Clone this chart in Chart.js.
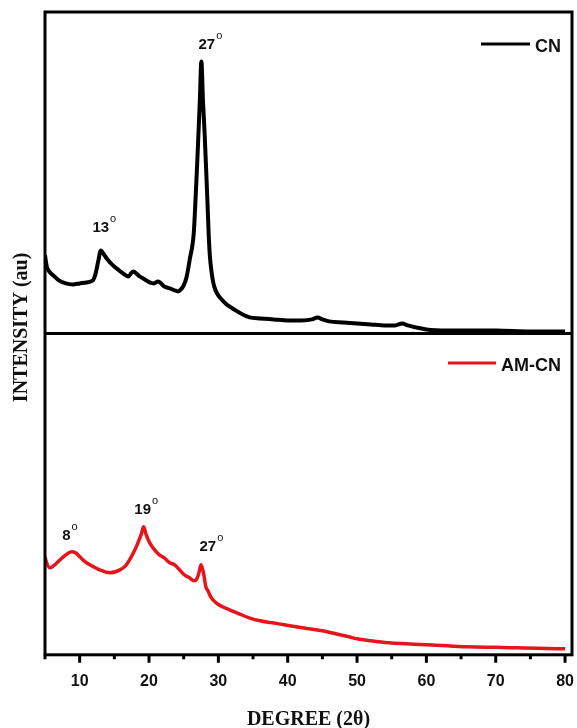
<!DOCTYPE html>
<html>
<head>
<meta charset="utf-8">
<script src="https://cdn.jsdelivr.net/npm/chart.js@4.4.1/dist/chart.umd.min.js"></script>
<style>
    html, body { margin: 0; padding: 0; background: #fff; }
    #wrap { width: 577px; height: 728px; position: relative; }
</style>
</head>
<body>
<div id="wrap"><canvas id="xrdChart"></canvas></div>
<script>
// XRD patterns, 2-theta in degrees, intensity in arbitrary units
var cnAngles = [5.0, 5.25, 5.6, 6.2, 7, 8, 9, 10, 11, 11.9, 12.3, 12.7, 13.05, 13.3, 13.9, 14.8, 15.5, 16.25,
    17, 17.7, 18.65, 19.4, 20.1, 20.7, 21.3, 22.2, 23, 23.7, 24.2, 24.6, 25.0, 25.4, 25.9, 26.45, 26.7, 26.93,
    27.13, 27.33, 27.55, 27.78, 28.02, 28.22, 28.42, 28.6, 28.78, 29.05, 29.4, 30.6, 32.5, 34.5, 36, 38, 40, 42,
    43.5, 44.3, 45, 46, 48, 50, 52, 54, 55.5, 56.5, 57.3, 58.5, 60, 63, 66, 70, 75, 80];
var cnIntensity = [78, 67, 62, 58, 53, 50, 49, 50, 51, 53, 60, 73, 83, 81, 75, 68, 64, 60,
    57, 62, 57, 54, 51, 50, 52, 47, 45, 43, 42, 44, 48, 56, 75, 100, 133, 167,
    200, 233, 272, 233, 200, 167, 133, 100, 77, 60, 47, 33, 23, 16, 15, 14, 13, 13,
    14, 16, 14, 12, 11, 10, 9, 8, 8, 10, 8, 6, 4, 3, 3, 3, 2, 2];

var amAngles = [5.0, 5.24, 5.72, 6.4, 7.16, 8.0, 8.83, 9.4, 10.03, 10.8, 11.5, 12.9, 14.34, 15.8, 16.6, 17.2,
    17.9, 18.4, 18.9, 19.22, 19.6, 20.1, 20.8, 21.5, 22.2, 23, 23.7, 24.4, 25.1, 25.83, 26.5, 26.9, 27.2, 27.5,
    27.85, 28.2, 28.5, 28.9, 29.67, 30.6, 31.6, 33, 34.45, 36, 37.8, 39.5, 41.2, 43, 45, 46.9, 48.8, 50, 52,
    54.6, 57, 60, 63, 66, 70, 73, 76, 80];
var amIntensity = [98, 92, 87, 90, 95, 100, 103, 102, 98, 93, 90, 85, 82, 85, 89, 95,
    104, 112, 121, 128, 120, 112, 105, 100, 97, 92, 90, 85, 80, 77, 74, 76, 82, 90,
    82, 68, 64, 58, 52, 48, 45, 41, 37, 34, 32, 30, 28, 26, 24, 21, 18, 16, 14,
    12, 11, 10, 9, 8, 7.5, 7, 6.5, 6];

var xTickValues = [5, 10, 15, 20, 25, 30, 35, 40, 45, 50, 55, 60, 65, 70, 75, 80];

// peak annotations: text, anchor angle, baseline intensity
var cnPeakText = ['13', '27'];
var cnPeakAt = [13.55, 28.85];
var cnPeakLevel = [101, 284];
var amPeakText = ['8', '19', '27'];
var amPeakAt = [8.6, 19.6, 29.0];
var amPeakLevel = [115, 141, 104];

const PANEL_MAX = 321.5;
const CN_COLOR = '#000000';
const AM_COLOR = '#e8141c';

function toPoints(xs, ys){
    return xs.map((x, i) => ({x: x, y: ys[i]}));
}

function drawPeakLabels(chart, scaleId, texts, angles, levels){
    const ctx = chart.ctx;
    const xScale = chart.scales.x;
    const yScale = chart.scales[scaleId];
    ctx.save();
    ctx.fillStyle = '#111';
    ctx.textBaseline = 'alphabetic';
    ctx.textAlign = 'left';
    for(let i = 0; i < texts.length; i++){
        const cx = xScale.getPixelForValue(angles[i]);
        const by = yScale.getPixelForValue(levels[i]);
        ctx.font = 'bold 15px "Liberation Sans", Arial, sans-serif';
        const w1 = ctx.measureText(texts[i]).width;
        ctx.font = '11px "Liberation Sans", Arial, sans-serif';
        const w2 = ctx.measureText('o').width;
        const left = cx - (w1 + w2 + 1) / 2;
        ctx.font = 'bold 15px "Liberation Sans", Arial, sans-serif';
        ctx.fillText(texts[i], left, by);
        ctx.font = '11px "Liberation Sans", Arial, sans-serif';
        ctx.fillText('o', left + w1 + 1, by - 10);
    }
    ctx.restore();
}

function drawLegendEntry(ctx, lineFrom, lineTo, lineY, textX, textY, label, color){
    ctx.save();
    ctx.strokeStyle = color;
    ctx.lineWidth = 3;
    ctx.beginPath();
    ctx.moveTo(lineFrom, lineY);
    ctx.lineTo(lineTo, lineY);
    ctx.stroke();
    ctx.fillStyle = '#111';
    ctx.font = 'bold 18px "Liberation Sans", Arial, sans-serif';
    ctx.textBaseline = 'alphabetic';
    ctx.fillText(label, textX, textY);
    ctx.restore();
}

// box around both panels, the divider between them and the bottom tick marks
var framePlugin = {
    id: 'panelFrame',
    afterDatasetsDraw: function(chart){
        const ctx = chart.ctx;
        const area = chart.chartArea;
        const xScale = chart.scales.x;
        const split = chart.scales.yTop.bottom;
        ctx.save();
        ctx.strokeStyle = '#000';
        ctx.lineWidth = 3;
        ctx.strokeRect(area.left, area.top, area.right - area.left, area.bottom - area.top);
        ctx.beginPath();
        ctx.moveTo(area.left, split);
        ctx.lineTo(area.right, split);
        xTickValues.forEach(function(v){
            const px = xScale.getPixelForValue(v);
            const len = v % 10 === 0 ? 8 : 4.5;
            ctx.moveTo(px, area.bottom);
            ctx.lineTo(px, area.bottom + len);
        });
        ctx.stroke();
        ctx.restore();
    },
    afterDraw: function(chart){
        const ctx = chart.ctx;
        const area = chart.chartArea;
        const top = chart.scales.yTop.top;
        const bottomTop = chart.scales.yBot.top;

        drawPeakLabels(chart, 'yTop', cnPeakText, cnPeakAt, cnPeakLevel);
        drawPeakLabels(chart, 'yBot', amPeakText, amPeakAt, amPeakLevel);

        drawLegendEntry(ctx, area.right - 91, area.right - 42, top + 32, area.right - 37, top + 39.5, 'CN', CN_COLOR);
        drawLegendEntry(ctx, area.right - 124, area.right - 76, bottomTop + 29.5, area.right - 71, bottomTop + 37.5, 'AM-CN', AM_COLOR);

        // shared y title for both panels
        ctx.save();
        ctx.translate(27, (area.top + area.bottom) / 2 - 6);
        ctx.rotate(-Math.PI / 2);
        ctx.font = 'bold 20px "Liberation Serif", "Times New Roman", serif';
        ctx.fillStyle = '#111';
        ctx.textAlign = 'center';
        ctx.textBaseline = 'alphabetic';
        ctx.fillText('INTENSITY (au)', 0, 0);
        ctx.restore();
    }
};

var panelAxis = function(){
    return {
        type: 'linear',
        position: 'left',
        stack: 'panels',
        stackWeight: 1,
        min: 0,
        max: PANEL_MAX,
        ticks: { display: false },
        grid: { display: false, drawTicks: false },
        border: { display: false },
        afterFit: function(scale){ scale.width = 0; }
    };
};

var xrdChart = new Chart(document.getElementById('xrdChart'), {
    type: 'line',
    data: {
        datasets: [
            {
                label: 'CN',
                data: toPoints(cnAngles, cnIntensity),
                borderColor: CN_COLOR,
                borderWidth: 4,
                pointRadius: 0,
                cubicInterpolationMode: 'monotone',
                fill: false,
                yAxisID: 'yTop'
            },
            {
                label: 'AM-CN',
                data: toPoints(amAngles, amIntensity),
                borderColor: AM_COLOR,
                borderWidth: 3.5,
                pointRadius: 0,
                cubicInterpolationMode: 'monotone',
                fill: false,
                yAxisID: 'yBot'
            }
        ]
    },
    options: {
        responsive: true,
        maintainAspectRatio: false,
        animation: false,
        layout: { padding: { left: 45, right: 5, top: 12, bottom: 0 } },
        plugins: {
            legend: { display: false },
            tooltip: { enabled: false }
        },
        scales: {
            x: {
                type: 'linear',
                min: 5,
                max: 81,
                afterBuildTicks: function(scale){
                    scale.ticks = xTickValues.map(v => ({value: v}));
                },
                ticks: {
                    autoSkip: false,
                    maxRotation: 0,
                    padding: 0,
                    color: '#111',
                    font: { family: '"Liberation Sans", Arial, sans-serif', weight: 'bold', size: 16 },
                    callback: function(v){ return v % 10 === 0 ? String(v) : ''; }
                },
                // tick marks are drawn by the frame plugin, tickLength only spaces the labels
                grid: { display: false, drawTicks: true, tickLength: 17 },
                border: { display: false },
                title: {
                    display: true,
                    text: 'DEGREE (2θ)',
                    color: '#111',
                    font: { family: '"Liberation Serif", "Times New Roman", serif', weight: 'bold', size: 20, lineHeight: 0.8 },
                    padding: { top: 21, bottom: 0 }
                }
            },
            // stacked panels: the later axis is laid out on top
            yBot: panelAxis(),
            yTop: panelAxis()
        }
    },
    plugins: [framePlugin]
});
</script>
</body>
</html>
